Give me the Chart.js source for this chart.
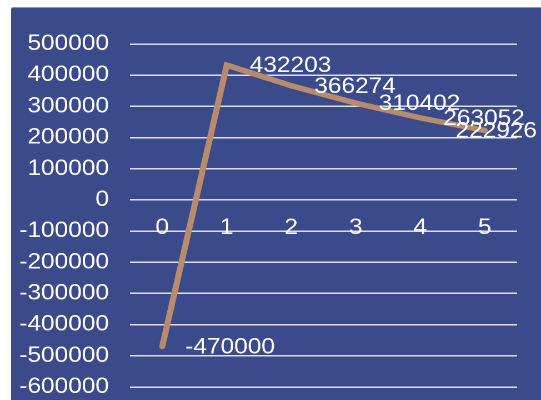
<!DOCTYPE html>
<html>
<head>
<meta charset="utf-8">
<script src="https://cdn.jsdelivr.net/npm/chart.js@4/dist/chart.umd.min.js"></script>
<style>
  html, body { margin: 0; padding: 0; background: #ffffff; }
  #wrap { position: relative; width: 541px; height: 400px; overflow: hidden; }
  #panel { position: absolute; left: 11px; top: 7px; width: 530px; height: 393px;
           background: #3B4A8B; border-top: 1px solid #8F96BE; border-top-left-radius: 2px; box-sizing: border-box; }
  /* the plot is laid out at 487px wide and stretched to the full 541px width */
  #c { position: absolute; left: 0; top: 0; transform: scaleX(1.1109); transform-origin: 0 0; }
</style>
</head>
<body>
<div id="wrap">
  <div id="panel"></div>
  <canvas id="c" width="487" height="440"></canvas>
</div>
<script>
// Periods and yearly cash flow
const categories = ['0', '1', '2', '3', '4', '5'];
const cashFlow = [-470000, 432203, 366274, 310402, 263052, 222926];
// Value axis ticks
const yTickValues = [500000, 400000, 300000, 200000, 100000, 0, -100000, -200000, -300000, -400000, -500000, -600000];

const FONT = { family: '"Liberation Sans", Arial, sans-serif', size: 22 };
const TEXT_COLOR = '#FFFFFF';

// Value labels to the right of each point, kept inside the panel
const valueLabels = {
  id: 'valueLabels',
  afterDatasetsDraw(chart) {
    const ctx = chart.ctx;
    const meta = chart.getDatasetMeta(0);
    const rightLimit = chart.width - 3.6;
    ctx.save();
    ctx.font = FONT.size + 'px ' + FONT.family;
    ctx.fillStyle = TEXT_COLOR;
    ctx.textAlign = 'left';
    ctx.textBaseline = 'middle';
    meta.data.forEach((pt, i) => {
      const text = String(cashFlow[i]);
      const w = ctx.measureText(text).width;
      const x = Math.min(pt.x + 20.7, rightLimit - w);
      ctx.fillText(text, x, pt.y + 1);
    });
    ctx.restore();
  }
};

new Chart(document.getElementById('c'), {
  type: 'line',
  data: {
    labels: categories,
    datasets: [{
      data: cashFlow,
      borderColor: '#B88B6D',
      borderWidth: 5.5,
      borderCapStyle: 'round',
      borderJoinStyle: 'miter',
      pointRadius: 0,
      pointHoverRadius: 0,
      tension: 0,
      fill: false
    }]
  },
  options: {
    responsive: false,
    animation: false,
    devicePixelRatio: 2,
    layout: { padding: { top: 44, bottom: 53, left: 0, right: 21.6 } },
    plugins: { legend: { display: false }, tooltip: { enabled: false } },
    scales: {
      x: {
        type: 'category',
        position: { y: 0 },
        offset: true,
        grid: { display: false, drawTicks: false },
        border: { display: false },
        ticks: { color: TEXT_COLOR, font: FONT, padding: 15, maxRotation: 0 },
        afterFit(scale) { scale.height = 0; }
      },
      y: {
        min: -600000,
        max: 500000,
        grid: { color: '#DCDDEC', lineWidth: 1.5, drawTicks: false },
        border: { display: false },
        ticks: {
          color: TEXT_COLOR,
          font: FONT,
          padding: 18.9,
          callback: (v) => String(v)
        },
        afterBuildTicks(scale) { scale.ticks = yTickValues.map(v => ({ value: v })); },
        afterFit(scale) { scale.width = 117; }
      }
    }
  },
  plugins: [valueLabels]
});
</script>
</body>
</html>
